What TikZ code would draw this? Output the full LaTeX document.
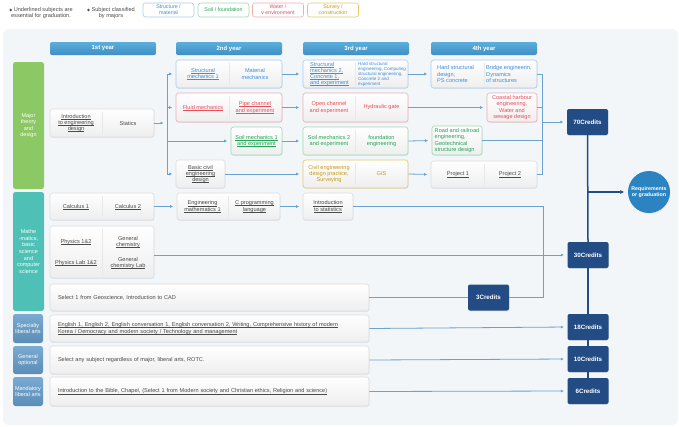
\documentclass[tikz,border=0pt]{standalone}
\usepackage{fontspec}
\setmainfont{Liberation Sans}
\newfontfamily\symfont{DejaVu Sans}
\usepackage{tikz}
\usetikzlibrary{arrows.meta,shadows,calc}
\definecolor{panelGray}{HTML}{F2F6F9}
\definecolor{headTop}{HTML}{5BAEDB}
\definecolor{headBot}{HTML}{3F8FC5}
\definecolor{greenCat}{HTML}{8CC863}
\definecolor{tealCat}{HTML}{4EC0B6}
\definecolor{slateTop}{HTML}{7AAAD0}
\definecolor{slateBot}{HTML}{5A8DB8}
\definecolor{navyCredit}{HTML}{234C85}
\definecolor{goalBlue}{HTML}{2B84C1}
\definecolor{linkBlue}{HTML}{6AA3CF}
\definecolor{structText}{HTML}{3D8FD8}
\definecolor{structLine}{HTML}{A8CDEE}
\definecolor{soilText}{HTML}{22A455}
\definecolor{soilLine}{HTML}{9FD8B4}
\definecolor{waterText}{HTML}{EA4C5A}
\definecolor{waterLine}{HTML}{F4AAB0}
\definecolor{surveyText}{HTML}{C99A12}
\definecolor{surveyLine}{HTML}{E8C765}
\definecolor{grayText}{HTML}{4A4A4A}
\definecolor{grayLine}{HTML}{DCDCDC}
\definecolor{grayFill}{HTML}{EEEEEE}
\newcommand\essential[1]{\leavevmode\setbox0\hbox{#1}\rlap{\rule[-0.9pt]{\wd0}{0.3pt}}\box0}
\tikzset{
  legendTxt/.style={align=center, font=\fontsize{5.6}{6.4}\selectfont, text=grayText, inner sep=0pt},
  legBox/.style={rectangle, rounded corners=2.5pt, fill=white, line width=0.6pt,
    minimum width=51pt, minimum height=14pt, align=center,
    font=\fontsize{5.3}{5.8}\selectfont, inner sep=0pt},
  yearHead/.style={rectangle, rounded corners=2pt, top color=headTop, bottom color=headBot,
    minimum width=106pt, minimum height=13pt, text=white,
    font=\fontsize{6}{6}\selectfont\bfseries, inner sep=0pt},
  cat/.style={rectangle, rounded corners=2.5pt, minimum width=31pt, text=white,
    align=center, font=\fontsize{5.5}{6.6}\selectfont, inner sep=0pt},
  catSlate/.style={cat, minimum width=30pt, top color=slateTop, bottom color=slateBot},
  course/.style={rectangle, rounded corners=2.5pt, draw=grayLine, line width=0.6pt,
    top color=white, bottom color=grayFill, inner sep=0pt, text=grayText,
    align=center, font=\fontsize{5.6}{6.2}\selectfont,
    drop shadow={opacity=0.12, shadow xshift=0.4pt, shadow yshift=-0.8pt}},
  courseBlue/.style={course, draw=structLine, text=structText},
  courseGreen/.style={course, draw=soilLine, text=soilText},
  courseRed/.style={course, draw=waterLine, text=waterText},
  courseYellow/.style={course, draw=surveyLine, text=surveyText},
  courseWide/.style={course, minimum width=319pt, text width=303pt, align=left},
  txt/.style={align=center, font=\fontsize{5.6}{6.2}\selectfont, inner sep=0pt, text=grayText},
  txtBlue/.style={txt, text=structText},
  txtGreen/.style={txt, text=soilText},
  txtRed/.style={txt, text=waterText},
  txtYellow/.style={txt, text=surveyText},
  divider/.style={draw=gray!18, line width=0.7pt},
  credit/.style={rectangle, rounded corners=2pt, fill=navyCredit, text=white,
    minimum width=41pt, minimum height=26pt, font=\fontsize{6.2}{6.2}\selectfont\bfseries,
    inner sep=0pt, drop shadow={opacity=0.15, shadow xshift=0.4pt, shadow yshift=-0.8pt}},
  link/.style={draw=linkBlue, line width=0.8pt},
  linkArrow/.style={link, -{Latex[length=3pt,width=3pt]}, shorten >=3.5pt},
  spine/.style={draw=navyCredit, line width=1.5pt},
  spineArrow/.style={spine, -{Latex[length=4pt,width=4pt]}, shorten >=3.5pt}
}
\begin{document}
\begin{tikzpicture}[x=1pt, y=-1pt]
  \useasboundingbox (0,0) rectangle (679,426);
  \fill[panelGray, rounded corners=5pt] (3,29) rectangle (678,425);

  % --- legend
  \node[legendTxt] (legUnder) at (41,13) {{\symfont\fontsize{3.8}{4}\selectfont ◆} Underlined subjects are\\essential for graduation.};
  \node[legendTxt] (legMajor) at (111,13) {{\symfont\fontsize{3.8}{4}\selectfont ◆} Subject classified\\by majors};
  \node[legBox, draw=structLine, text=structText] (legStruct) at (168.5,10) {Structure /\\material};
  \node[legBox, draw=soilLine, text=soilText]     (legSoil)   at (223.5,10) {Soil / foundation};
  \node[legBox, draw=waterLine, text=waterText]   (legWater)  at (278,10)   {Water /\\v environment};
  \node[legBox, draw=surveyLine, text=surveyText] (legSurvey) at (333,10)   {Survey /\\construction};

  % --- years
  \node[yearHead] (year1) at (103,48.5) {1st year};
  \node[yearHead] (year2) at (229,48.5) {2nd year};
  \node[yearHead] (year3) at (356,48.5) {3rd year};
  \node[yearHead] (year4) at (484,48.5) {4th year};

  % --- categories
  \node[cat, fill=greenCat, minimum height=127pt] (catMajor) at (28.5,125.5) {Major\\theory\\and\\design};
  \node[cat, fill=tealCat, minimum height=119pt]  (catMath)  at (28.5,251.5) {Mathe\\-matics,\\basic\\science\\and\\computer\\science};
  \node[catSlate, minimum height=29pt] (catSpecialty) at (28,328.5) {Specialty\\liberal arts};
  \node[catSlate, minimum height=28pt] (catGeneral)   at (28,360)   {General\\optional};
  \node[catSlate, minimum height=29pt] (catMandatory) at (28,391.5) {Mandatory\\liberal arts};

  % --- 1st year
  \node[course, minimum width=104pt, minimum height=28pt] (intro) at (102,123) {};
  \draw[divider] ([yshift=-3pt]intro.north) -- ([yshift=3pt]intro.south);
  \node[txt] (introA) at (76,123)  {\essential{Introduction}\\\essential{to engineering}\\\essential{design}};
  \node[txt] (introB) at (128,123) {Statics};

  % --- 2nd year
  \node[courseBlue, minimum width=106pt, minimum height=28pt] (struct1) at (229,74) {};
  \draw[divider] ([yshift=-3pt]struct1.north) -- ([yshift=3pt]struct1.south);
  \node[txtBlue] (struct1A) at (203,74) {\essential{Structural}\\\essential{mechanics 1}};
  \node[txtBlue] (struct1B) at (255,74) {Material\\mechanics};

  \node[courseRed, minimum width=106pt, minimum height=29pt] (fluid) at (229,107.5) {};
  \draw[divider] ([yshift=-3pt]fluid.north) -- ([yshift=3pt]fluid.south);
  \node[txtRed] (fluidA) at (203,107.5) {\essential{Fluid mechanics}};
  \node[txtRed] (fluidB) at (255,107.5) {\essential{Pipe channel}\\\essential{and experiment}};

  \node[courseGreen, minimum width=51pt, minimum height=28pt] (soil1) at (256.5,141) {\essential{Soil mechanics 1}\\\essential{and experiment}};
  \node[course, minimum width=49pt, minimum height=28pt] (basic) at (200.5,174) {\essential{Basic civil}\\\essential{engineering}\\\essential{design}};

  % --- 3rd year
  \node[courseBlue, minimum width=105pt, minimum height=28pt] (struct2) at (355.5,74) {};
  \draw[divider] ([yshift=-3pt]struct2.north) -- ([yshift=3pt]struct2.south);
  \node[txtBlue, align=left, anchor=west] (struct2A) at (310,74) {\essential{Structural}\\\essential{mechanics 2,}\\\essential{Concrete 1,}\\\essential{and experiment}};
  \node[txtBlue, align=left, anchor=west, font=\fontsize{4.5}{5}\selectfont] (struct2B) at (358,74) {Hard structural\\engineering, Computing\\structural engineering,\\Concrete 2 and\\experiment};

  \node[courseRed, minimum width=105pt, minimum height=29pt] (channel) at (355.5,107.5) {};
  \draw[divider] ([yshift=-3pt]channel.north) -- ([yshift=3pt]channel.south);
  \node[txtRed] (channelA) at (329,107.5)   {Open channel\\and experiment};
  \node[txtRed] (channelB) at (381.5,107.5) {Hydraulic gate};

  \node[courseGreen, minimum width=105pt, minimum height=28pt] (soil2) at (355.5,141) {};
  \draw[divider] ([yshift=-3pt]soil2.north) -- ([yshift=3pt]soil2.south);
  \node[txtGreen] (soil2A) at (329,141)   {Soil mechanics 2\\and experiment};
  \node[txtGreen] (soil2B) at (381.5,141) {foundation\\engineering};

  \node[courseYellow, minimum width=105pt, minimum height=28pt] (practice) at (355.5,174) {};
  \draw[divider] ([yshift=-3pt]practice.north) -- ([yshift=3pt]practice.south);
  \node[txtYellow] (practiceA) at (329,174)   {Civil engineering\\design practice,\\Surveying};
  \node[txtYellow] (practiceB) at (381.5,174) {GIS};

  % --- 4th year
  \node[courseBlue, minimum width=106pt, minimum height=28pt] (hardDesign) at (484,74) {};
  \draw[divider] ([yshift=-3pt]hardDesign.north) -- ([yshift=3pt]hardDesign.south);
  \node[txtBlue, align=left, anchor=west] (hardDesignA) at (437,74) {Hard structural\\design,\\PS concrete};
  \node[txtBlue, align=left, anchor=west] (hardDesignB) at (486,74) {Bridge engineerin,\\Dynamics\\of structures};

  \node[courseRed, minimum width=50pt, minimum height=29pt] (coastal) at (512,107.5) {Coastal harbour\\engineering,\\Water and\\sewage design};
  \node[courseGreen, minimum width=50pt, minimum height=29pt, align=left] (road) at (457,140.5) {Road and railroad\\engineering,\\Geotechnical\\structure design};

  \node[course, minimum width=106pt, minimum height=27pt] (project) at (484,174.5) {};
  \draw[divider] ([yshift=-3pt]project.north) -- ([yshift=3pt]project.south);
  \node[txt] (projectA) at (458,174.5) {\essential{Project 1}};
  \node[txt] (projectB) at (510,174.5) {\essential{Project 2}};

  % --- mathematics and science
  \node[course, minimum width=104pt, minimum height=27pt] (calculus) at (102,206.5) {};
  \draw[divider] ([yshift=-3pt]calculus.north) -- ([yshift=3pt]calculus.south);
  \node[txt] (calculusA) at (76,206.5)  {\essential{Calculus 1}};
  \node[txt] (calculusB) at (128,206.5) {\essential{Calculus 2}};

  \node[course, minimum width=103pt, minimum height=27pt] (engMath) at (228.5,206.5) {};
  \draw[divider] ([yshift=-3pt]engMath.north) -- ([yshift=3pt]engMath.south);
  \node[txt] (engMathA) at (202.5,206.5) {\essential{Engineering}\\\essential{mathematics 1}};
  \node[txt] (engMathB) at (254.5,206.5) {\essential{C programming}\\\essential{language}};

  \node[course, minimum width=50pt, minimum height=27pt] (stats) at (328,206.5) {\essential{Introduction}\\\essential{to statistics}};

  \node[course, minimum width=104pt, minimum height=52pt] (physics) at (102,252) {};
  \draw[divider] ([yshift=-3pt]physics.north) -- ([yshift=3pt]physics.south);
  \node[txt] (physicsA) at (76,242)  {\essential{Physics 1\&2}};
  \node[txt] (physicsB) at (128,242) {General\\\essential{chemistry}};
  \node[txt] (physicsC) at (76,263)  {\essential{Physics Lab 1\&2}};
  \node[txt] (physicsD) at (128,263) {General\\\essential{chemistry Lab}};

  \node[courseWide, minimum height=27pt] (geo) at (209.5,297.5) {Select 1 from Geoscience, Introduction to CAD};

  % --- liberal arts
  \node[courseWide, minimum height=27pt] (specialty) at (209.5,328.5) {\essential{English 1, English 2, English conversation 1, English conversation 2, Writing, Comprehensive history of modern}\\\essential{Korea / Democracy and modern society / Technology and management}};
  \node[courseWide, minimum height=28pt] (general) at (209.5,360) {Select any subject regardless of major, liberal arts, ROTC.};
  \node[courseWide, minimum height=29pt] (mandatory) at (209.5,391.5) {\essential{Introduction to the Bible, Chapel, (Select 1 from Modern society and Christian ethics, Religion and science)}};

  % --- credits
  \node[credit] (cr70) at (587.5,122) {70Credits};
  \node[credit] (cr30) at (588,255)   {30Credits};
  \node[credit] (cr3)  at (488.5,297.5) {3Credits};
  \node[credit] (cr18) at (588,327)   {18Credits};
  \node[credit] (cr10) at (588,359)   {10Credits};
  \node[credit] (cr6)  at (588,391)   {6Credits};
  \node[circle, fill=goalBlue, minimum size=42pt, inner sep=0pt, text=white, align=center,
        font=\fontsize{5.3}{6.2}\selectfont\bfseries,
        drop shadow={opacity=0.15, shadow xshift=0.4pt, shadow yshift=-0.8pt}] (goal) at (649,192) {Requirements\\or graduation};

  % --- 1st to 2nd year
  \coordinate (split) at (167,123);
  \draw[linkArrow] (intro.east) -- (split);
  \draw[link] (split |- struct1.west) -- (split |- basic.west);
  \draw[linkArrow] (split |- struct1.west) -- (struct1.west);
  \draw[linkArrow] (split |- fluid.west) -- (fluid.west);
  \draw[linkArrow] (split |- soil1.west) -- (soil1.west);
  \draw[linkArrow] (split |- basic.west) -- (basic.west);

  % --- 2nd to 3rd to 4th year
  \draw[linkArrow] (struct1.east) -- (struct2.west);
  \draw[linkArrow] (fluid.east) -- (channel.west);
  \draw[linkArrow] (soil1.east) -- (soil2.west);
  \draw[linkArrow] (basic.east) -- (practice.west);
  \draw[linkArrow] (struct2.east) -- (hardDesign.west);
  \draw[linkArrow] (channel.east) -- (coastal.west);
  \draw[linkArrow] (soil2.east) -- (road.west);
  \draw[linkArrow] (practice.east) -- (project.west);

  % --- into 70 credits
  \coordinate (merge) at (542,122);
  \draw[link] (hardDesign.east) -- (hardDesign.east -| merge) -- (project.east -| merge) -- (project.east);
  \draw[link] (coastal.east) -- (coastal.east -| merge);
  \draw[link] (road.east) -- (road.east -| merge);
  \draw[linkArrow] (merge) -- (cr70.west);

  % --- mathematics links
  \draw[linkArrow] (calculus.east) -- (engMath.west);
  \draw[linkArrow] (engMath.east) -- (stats.west);
  \coordinate (statLoop) at (543,206.5);
  \draw[link] (stats.east) -- (statLoop) |- (cr3.east);
  \draw[link] (geo.east) -- (cr3.west);
  \draw[linkArrow] (cr30.west -| physics.east) -- (cr30.west);

  % --- liberal arts links
  \draw[linkArrow] (specialty.east) -- (cr18.west);
  \draw[linkArrow] (general.east) -- (cr10.west);
  \draw[linkArrow] (mandatory.east) -- (cr6.west);

  % --- credit spine
  \draw[spine] (cr70.south) -- (cr30.north);
  \draw[spine] (cr30.south) -- (cr18.north);
  \draw[spine] (cr18.south) -- (cr10.north);
  \draw[spine] (cr10.south) -- (cr6.north);
  \draw[spineArrow] (cr70.south |- goal.west) -- (goal.west);

\end{tikzpicture}
\end{document}
